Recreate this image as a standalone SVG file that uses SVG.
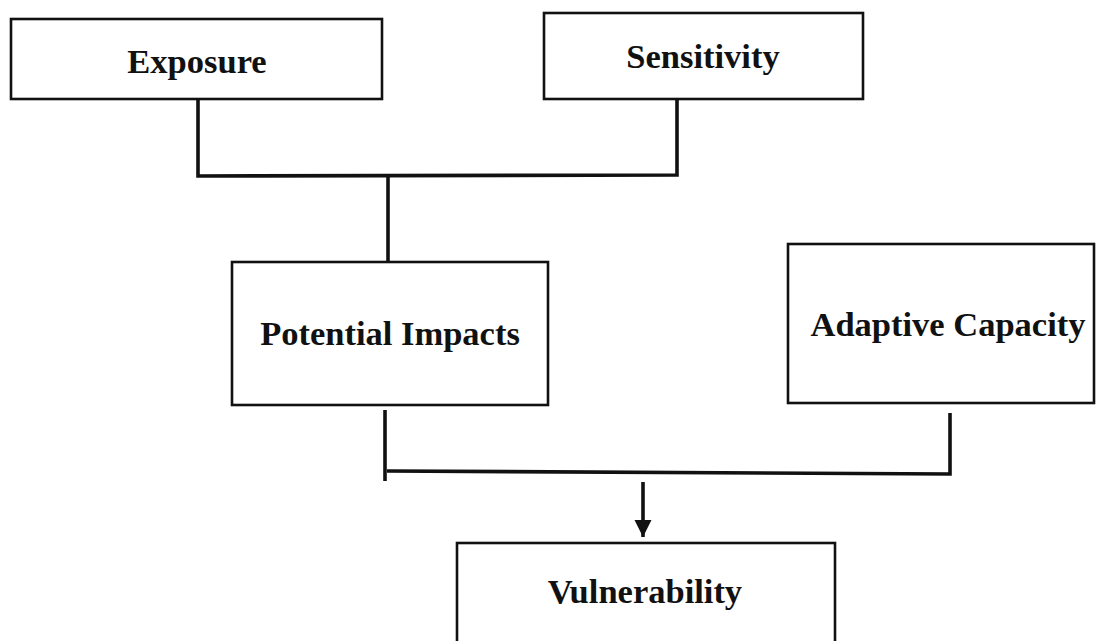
<svg xmlns="http://www.w3.org/2000/svg" width="1104" height="641" viewBox="0 0 1104 641">
<style>
.box{fill:#fff;stroke:#111;stroke-width:2.6}
.lbl{font-family:"Liberation Serif","Times New Roman",serif;font-weight:bold;font-size:34.5px;fill:#111;text-anchor:middle}
.con{fill:none;stroke:#111;stroke-width:3.6}
</style>
<defs>
<marker id="arr" markerWidth="18" markerHeight="18" refX="17" refY="8.5" orient="auto" markerUnits="userSpaceOnUse">
<path d="M0,0 L17,8.5 L0,17 Z" fill="#111"/>
</marker>
</defs>
<rect width="1104" height="641" fill="#fff"/>
<g id="connectors">
<polyline class="con" points="198,99 198,176 677,175 677,99"/>
<line class="con" x1="388" y1="176" x2="388" y2="262"/>
<line class="con" x1="385" y1="410" x2="385" y2="481"/>
<polyline class="con" points="387,471 950,474 950,413"/>
<line class="con" x1="643" y1="482" x2="643" y2="537" marker-end="url(#arr)"/>
</g>
<g id="exposure"><rect class="box" x="11" y="19" width="371" height="80"/><text class="lbl" x="197" y="73">Exposure</text></g>
<g id="sensitivity"><rect class="box" x="544" y="13" width="319" height="86"/><text class="lbl" x="703" y="68">Sensitivity</text></g>
<g id="potential-impacts"><rect class="box" x="232" y="262" width="316" height="143"/><text class="lbl" x="390" y="345">Potential Impacts</text></g>
<g id="adaptive-capacity"><rect class="box" x="788" y="244" width="306" height="159"/><text class="lbl" x="948" y="336">Adaptive Capacity</text></g>
<g id="vulnerability"><rect class="box" x="457" y="543" width="378" height="110"/><text class="lbl" x="645" y="603">Vulnerability</text></g>
</svg>
